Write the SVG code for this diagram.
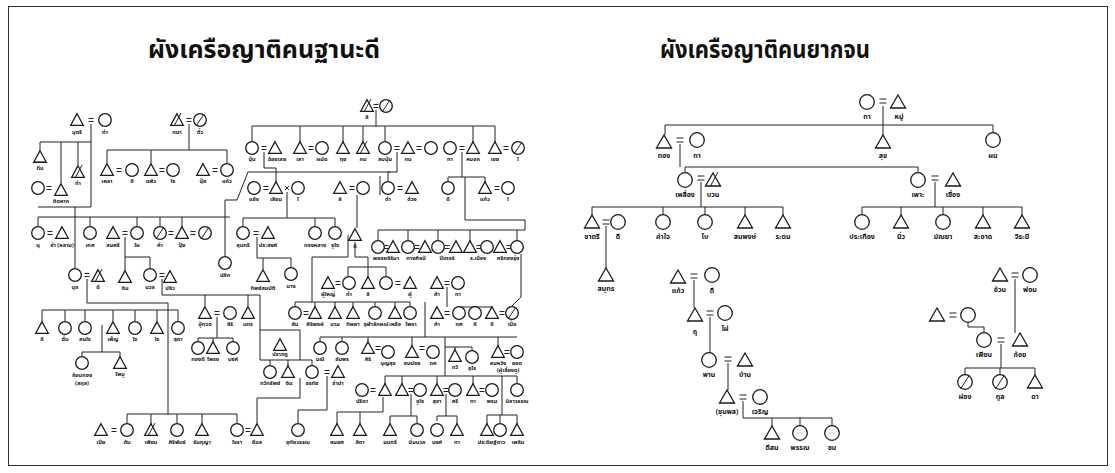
<svg xmlns="http://www.w3.org/2000/svg" xmlns:xlink="http://www.w3.org/1999/xlink" width="1115" height="473" viewBox="0 0 1115 473">
<style>
.s{fill:#fff;stroke:#1a1a1a;stroke-width:1.3}
.ln{stroke:#222;stroke-width:1;fill:none}
.eq line{stroke:#222;stroke-width:1}
.l{font-family:"Noto Sans Thai","Noto Sans","DejaVu Sans",sans-serif;font-size:5.5px;font-weight:bold;text-anchor:middle;fill:#111}
.L{font-family:"Noto Sans Thai","Noto Sans","DejaVu Sans",sans-serif;font-size:7px;font-weight:bold;text-anchor:middle;fill:#111}
.ttl{font-family:"Noto Sans Thai","Noto Sans","DejaVu Sans",sans-serif;font-size:25px;font-weight:bold;fill:#111}
</style>
<defs>
<circle id="c" r="6.3" class="s"/>
<path id="t" d="M0,-6.3 L6.3,5.3 L-6.3,5.3 Z" class="s"/>
<g id="cs"><circle r="6.3" class="s"/><line x1="-4" y1="6" x2="4" y2="-6" class="ln"/></g>
<g id="ts"><path d="M0,-6.3 L6.3,5.3 L-6.3,5.3 Z" class="s"/><line x1="-3" y1="6" x2="4" y2="-7" class="ln"/></g>
<g id="e" class="eq"><line x1="-2.5" y1="-1.5" x2="2.5" y2="-1.5"/><line x1="-2.5" y1="1.5" x2="2.5" y2="1.5"/></g>
<circle id="C" r="7.3" class="s"/>
<path id="T" d="M0,-7 L7.5,6 L-7.5,6 Z" class="s"/>
<g id="CS"><circle r="7.3" class="s"/><line x1="-4.5" y1="7" x2="4.5" y2="-7" class="ln"/></g>
<g id="TS"><path d="M0,-7 L7.5,6 L-7.5,6 Z" class="s"/><line x1="-3" y1="7" x2="5" y2="-8" class="ln"/></g>
<g id="E" class="eq"><line x1="-3.5" y1="-2" x2="3.5" y2="-2"/><line x1="-3.5" y1="2" x2="3.5" y2="2"/></g>
</defs>
<rect x="0" y="0" width="1115" height="473" fill="#fff"/>
<rect x="8.5" y="6.5" width="1099" height="459" fill="none" stroke="#333" stroke-width="1"/>
<text class="ttl" x="148" y="58" textLength="232" lengthAdjust="spacingAndGlyphs">ผังเครือญาติคนฐานะดี</text>
<text class="ttl" x="660" y="58" textLength="210" lengthAdjust="spacingAndGlyphs">ผังเครือญาติคนยากจน</text>

<g id="connectors">
<path class="ln" d="M91,124 V207 M38,207 H91 M75,207 V268 M91,142 H40 V150 M61,142 V183 M78,142 V165
M189,124 V150 M107,150 H227 M107,150 V163 M151,150 V163 M227,150 V163
M38,217 H230 M38,217 V226 M90,217 V226 M137,217 V226 M160,217 V226 M182,217 V227
M125,237 V270 M125,257 H150 V268
M87,279 V303 H168 M42,310 H178 M42,310 V321 M65,310 V321 M85,310 V321 M113,310 V321 M135,310 V321 M157,310 V321 M178,310 V321
M162,279 V295 H260 M205,295 V306 M248,295 V306 M260,295 V360
M102,325 V352 M82,352 H120 M82,352 V356 M120,352 V357
M168,303 V414 M127,414 H237 M127,414 V423 M151,414 V424 M177,414 V423 M202,414 V424 M237,414 V423
M376,110 V126 M252,126 H495 M252,126 V141 M300,126 V142 M343,126 V142 M363,126 V142 M385,126 V141 M473,126 V142 M495,126 V142
M264,152 V168 H276 V182 M285,186 L289,190 M289,186 L285,190
M287,192 V218 M243,218 H335 M243,218 V226 M315,218 V226 M335,218 V226
M248,172 H390 M248,172 L237,200 H225 V256
M357,195 V228 M380,176 V195
M397,152 V172 H388 V181
M462,152 V177 M448,177 H485 M448,177 V181 M485,177 V182
M465,177 V220 H525 V230 M378,230 H525 M378,230 V240 M408,230 V240 M438,230 V240 M470,230 V241 M517,230 V240
M348,235 V257 H312 V302 M295,302 H410 M295,302 V306 M315,302 V307 M335,302 V307 M353,302 V307 M375,302 V306 M395,302 V307 M410,302 V306
M355,242 V257 H368 V267 M348,267 H386 M348,267 V276 M368,267 V277 M386,267 V276
M447,287 V307 M459,307 H492 M459,307 V306 M475,307 V306 M492,307 V307
M521,254 V297 L512,306 M425,302 V337
M320,337 H517 M320,337 V341 M342,337 V341 M368,337 V342 M412,337 V346 M498,337 V346 M445,337 V376 M445,347 H472 M455,347 V350 M472,347 V351
M217,317 V338 M198,338 H233 M198,338 V343 M213,338 V342 M233,338 V341
M257,237 V258 H291 M263,258 V269 M291,258 V268
M260,330 H300 V360 M260,360 H312 M270,360 V365 M288,360 V366 M312,360 V365
M300,378 V398 H257 V423 M327,376 V410 H298 V423 M383,397 V412 H337 M337,412 V424 M360,412 V424
M385,376 H517 M385,376 V384 M402,376 V384 M437,376 V384 M473,376 V384 M517,376 V383
M502,376 V415 M487,415 H517 M487,415 V424 M500,415 V423 M517,415 V424
M411,394 V416 M390,416 H417 M390,416 V424 M417,416 V423 M446,394 V416 M437,416 H457 M437,416 V421 M457,416 V424
M883,106 V125 M665,125 H993 M665,125 V135 M883,125 V135 M993,125 V133
M680,144 V167 M685,167 H918 M685,167 V173 M918,167 V173
M701,182 V207 M592,207 H783 M592,207 V215 M663,207 V215 M705,207 V215 M745,207 V215 M783,207 V215
M935,182 V207 M862,207 H1022 M862,207 V215 M901,207 V215 M943,207 V215 M983,207 V215 M1022,207 V215
M606,226 V268 M694,280 V308 M710,317 V353 M728,363 V390
M743,401 V418 H832 M772,418 V426 M800,418 V426 M832,418 V426
M968,322 V327 H984 V333 M1015,279 V333 M1001,344 V368 M965,368 H1035 M965,368 V375 M1000,368 V375 M1035,368 V375"/>
<use href="#e" x="91" y="120"/><use href="#e" x="49" y="188"/><use href="#e" x="189" y="120"/>
<use href="#e" x="119" y="170"/><use href="#e" x="162" y="170"/><use href="#e" x="215" y="170"/>
<use href="#e" x="376" y="106"/><use href="#e" x="264" y="148"/><use href="#e" x="311" y="148"/><use href="#e" x="397" y="148"/><use href="#e" x="419" y="148"/><use href="#e" x="462" y="148"/><use href="#e" x="506" y="148"/>
<use href="#e" x="266" y="188"/><use href="#e" x="352" y="188"/><use href="#e" x="400" y="188"/><use href="#e" x="497" y="188"/>
<use href="#e" x="50" y="233"/><use href="#e" x="125" y="233"/><use href="#e" x="171" y="233"/><use href="#e" x="193" y="233"/><use href="#e" x="256" y="233"/>
<use href="#e" x="386" y="247"/><use href="#e" x="417" y="247"/><use href="#e" x="447" y="247"/><use href="#e" x="479" y="247"/><use href="#e" x="509" y="247"/>
<use href="#e" x="87" y="275"/><use href="#e" x="162" y="275"/><use href="#e" x="338" y="283"/><use href="#e" x="398" y="283"/><use href="#e" x="447" y="283"/>
<use href="#e" x="217" y="313"/><use href="#e" x="306" y="313"/><use href="#e" x="447" y="313"/><use href="#e" x="502" y="313"/>
<use href="#e" x="378" y="348"/><use href="#e" x="422" y="348"/><use href="#e" x="507" y="352"/><use href="#e" x="327" y="372"/>
<use href="#e" x="373" y="390"/><use href="#e" x="411" y="390"/><use href="#e" x="446" y="390"/><use href="#e" x="482" y="390"/>
<use href="#e" x="114" y="430"/><use href="#e" x="248" y="430"/>
<use href="#E" x="883" y="101"/><use href="#E" x="680" y="140"/><use href="#E" x="701" y="178"/><use href="#E" x="935" y="178"/><use href="#E" x="606" y="222"/>
<use href="#E" x="694" y="276"/><use href="#E" x="710" y="313"/><use href="#E" x="728" y="359"/><use href="#E" x="743" y="397"/>
<use href="#E" x="1015" y="275"/><use href="#E" x="953" y="315"/><use href="#E" x="1001" y="340"/>
</g>

<g id="left-tree">
<g id="a1"><use href="#t" x="77" y="120"/><text class="l" x="77" y="134">บุตรี</text></g>
<g id="a2"><use href="#c" x="105" y="120"/><text class="l" x="105" y="134">ทำ</text></g>
<g id="a3"><use href="#t" x="40" y="157"/><path d="M34,162 H46" class="ln" stroke-width="2"/><text class="l" x="40" y="170">ทีน</text></g>
<g id="a4"><use href="#c" x="38" y="188"/></g>
<g id="a5"><use href="#t" x="61" y="190"/><text class="l" x="61" y="203">ติดหาก</text></g>
<g id="a6"><use href="#ts" x="78" y="172"/><text class="l" x="78" y="185">ทำ</text></g>
<g id="b1"><use href="#ts" x="177" y="120"/><text class="l" x="177" y="134">ทนา</text></g>
<g id="b2"><use href="#cs" x="200" y="120"/><text class="l" x="200" y="134">ตั๋ว</text></g>
<g id="b3"><use href="#t" x="107" y="170"/><text class="l" x="107" y="183">เหลา</text></g>
<g id="b4"><use href="#c" x="132" y="170"/><text class="l" x="132" y="183">ดี</text></g>
<g id="b5"><use href="#t" x="151" y="170"/><text class="l" x="151" y="183">แพ้ว</text></g>
<g id="b6"><use href="#c" x="173" y="170"/><text class="l" x="173" y="183">ใจ</text></g>
<g id="b7"><use href="#t" x="203" y="170"/><text class="l" x="203" y="183">ปุ๋ย</text></g>
<g id="b8"><use href="#c" x="227" y="170"/><text class="l" x="227" y="183">แก้ว</text></g>
<g id="c1"><use href="#ts" x="367" y="106"/><text class="l" x="367" y="119">ลี</text></g>
<g id="c2"><use href="#cs" x="386" y="106"/></g>
<g id="d1"><use href="#c" x="252" y="148"/><text class="l" x="252" y="161">ปุ่น</text></g>
<g id="d2"><use href="#t" x="275" y="148"/><text class="l" x="277" y="161">ฉ้อยเลย</text></g>
<g id="d3"><use href="#t" x="300" y="148"/><text class="l" x="300" y="161">เสา</text></g>
<g id="d4"><use href="#c" x="322" y="148"/><text class="l" x="322" y="161">ผมัด</text></g>
<g id="d5"><use href="#t" x="343" y="148"/><text class="l" x="343" y="161">ทุย</text></g>
<g id="d6"><use href="#ts" x="363" y="148"/><text class="l" x="363" y="161">ทน</text></g>
<g id="d7"><use href="#c" x="385" y="148"/><text class="l" x="385" y="161">สมปุ่ม</text></g>
<g id="d8"><use href="#t" x="408" y="148"/><text class="l" x="408" y="161">ทน</text></g>
<g id="d9"><use href="#c" x="431" y="148"/></g>
<g id="d10"><use href="#c" x="450" y="148"/><text class="l" x="450" y="161">ทา</text></g>
<g id="d11"><use href="#t" x="473" y="148"/><text class="l" x="473" y="161">หมอก</text></g>
<g id="d12"><use href="#t" x="495" y="148"/><text class="l" x="495" y="161">เชย</text></g>
<g id="d13"><use href="#cs" x="518" y="148"/><text class="l" x="518" y="161">ใ</text></g>
<g id="e1"><use href="#c" x="254" y="188"/><text class="l" x="254" y="201">แข้ง</text></g>
<g id="e2"><use href="#t" x="276" y="188"/><text class="l" x="276" y="201">เสียน</text></g>
<g id="e3"><use href="#c" x="298" y="188"/><text class="l" x="298" y="201">ใ</text></g>
<g id="e4"><use href="#t" x="340" y="188"/><text class="l" x="340" y="201">ลิ</text></g>
<g id="e5"><use href="#c" x="363" y="188"/></g>
<g id="e6"><use href="#c" x="388" y="188"/><text class="l" x="388" y="201">ตำ</text></g>
<g id="e7"><use href="#t" x="412" y="188"/><text class="l" x="412" y="201">ด้วง</text></g>
<g id="e8"><use href="#c" x="448" y="188"/><text class="l" x="448" y="201">ดี</text></g>
<g id="e9"><use href="#t" x="485" y="188"/><text class="l" x="485" y="201">แก้ว</text></g>
<g id="e10"><use href="#c" x="508" y="188"/><text class="l" x="508" y="201">ใ</text></g>
<g id="f1"><use href="#c" x="38" y="233"/><text class="l" x="38" y="247">นุ</text></g>
<g id="f2"><use href="#t" x="62" y="233"/><text class="l" x="62" y="247">ชำ (หลาน)</text></g>
<g id="f3"><use href="#c" x="90" y="233"/><text class="l" x="90" y="247">เทศ</text></g>
<g id="f4"><use href="#t" x="113" y="233"/><text class="l" x="113" y="247">สมศรี</text></g>
<g id="f5"><use href="#c" x="137" y="233"/><text class="l" x="137" y="247">ไผ</text></g>
<g id="f6"><use href="#cs" x="160" y="233"/><text class="l" x="160" y="247">คำ</text></g>
<g id="f7"><use href="#t" x="182" y="233"/><text class="l" x="182" y="247">ปุ๋ย</text></g>
<g id="f8"><use href="#cs" x="205" y="233"/></g>
<g id="f9"><use href="#c" x="243" y="233"/><text class="l" x="243" y="247">สุนทรี</text></g>
<g id="f10"><use href="#t" x="268" y="233"/><text class="l" x="268" y="247">ประสงค์</text></g>
<g id="f11"><use href="#c" x="315" y="233"/><text class="l" x="315" y="247">ทองหลาง</text></g>
<g id="f12"><use href="#c" x="335" y="233"/><text class="l" x="335" y="247">ชูใจ</text></g>
<g id="f13"><use href="#t" x="355" y="235"/><text class="l" x="355" y="248">ดิ</text></g>
<g id="g1"><use href="#c" x="378" y="247"/></g>
<g id="g2"><use href="#t" x="393" y="247"/><text class="l" x="386" y="260">พลอยสิริมา</text></g>
<g id="g3"><use href="#c" x="408" y="247"/></g>
<g id="g4"><use href="#t" x="425" y="247"/><text class="l" x="416" y="260">ทางศิลป์</text></g>
<g id="g5"><use href="#c" x="438" y="247"/></g>
<g id="g6"><use href="#t" x="456" y="247"/><text class="l" x="447" y="260">ปีเตอร์</text></g>
<g id="g7"><use href="#t" x="470" y="247"/></g>
<g id="g8"><use href="#c" x="487" y="247"/><text class="l" x="478" y="260">ร.เมือง</text></g>
<g id="g9"><use href="#t" x="500" y="247"/></g>
<g id="g10"><use href="#c" x="517" y="247"/><text class="l" x="508" y="260">ศรีทองรุ่ง</text></g>
<g id="h1"><circle cx="225" cy="263" r="6.3" class="s" stroke-width="2"/><text class="l" x="225" y="277">ปลิก</text></g>
<g id="h2"><use href="#c" x="75" y="275"/><text class="l" x="75" y="289">บุล</text></g>
<g id="h3"><use href="#ts" x="98" y="276"/><text class="l" x="98" y="289">ดี</text></g>
<g id="h4"><use href="#t" x="125" y="277"/><text class="l" x="125" y="290">ดิน</text></g>
<g id="h5"><use href="#c" x="150" y="275"/><text class="l" x="150" y="289">นวล</text></g>
<g id="h6"><use href="#t" x="170" y="277"/><text class="l" x="170" y="290">ปลิว</text></g>
<g id="h7"><use href="#t" x="263" y="276"/><text class="l" x="263" y="290">ทิพย์สมบัติ</text></g>
<g id="h8"><use href="#c" x="291" y="274"/><text class="l" x="291" y="288">นาง</text></g>
<g id="i1"><use href="#t" x="328" y="283"/><text class="l" x="328" y="296">ผู้ใหญ่</text></g>
<g id="i2"><use href="#c" x="349" y="283"/><text class="l" x="349" y="296">ทำ</text></g>
<g id="i3"><use href="#t" x="368" y="283"/><text class="l" x="368" y="296">ลิ</text></g>
<g id="i4"><use href="#c" x="386" y="283"/></g>
<g id="i5"><use href="#t" x="410" y="283"/><text class="l" x="410" y="296">ผู้</text></g>
<g id="i6"><use href="#t" x="437" y="283"/><text class="l" x="437" y="296">ค้า</text></g>
<g id="i7"><use href="#c" x="458" y="283"/><text class="l" x="458" y="296">ทา</text></g>
<g id="j1"><use href="#t" x="205" y="313"/><text class="l" x="205" y="326">ปู่ทวด</text></g>
<g id="j2"><use href="#c" x="230" y="313"/><text class="l" x="230" y="326">สิริ</text></g>
<g id="j3"><use href="#t" x="248" y="313"/><text class="l" x="248" y="326">นทร</text></g>
<g id="j4"><use href="#c" x="295" y="313"/><text class="l" x="295" y="326">สิน</text></g>
<g id="j5"><use href="#t" x="315" y="313"/><text class="l" x="315" y="326">ศิริพงษ์</text></g>
<g id="j6"><use href="#t" x="335" y="313"/><text class="l" x="335" y="326">นาม</text></g>
<g id="j7"><use href="#t" x="353" y="313"/><text class="l" x="353" y="326">ทิพยา</text></g>
<g id="j8"><use href="#c" x="375" y="313"/><text class="l" x="376" y="326">จุฬาลักษณ์</text></g>
<g id="j9"><use href="#t" x="395" y="313"/><text class="l" x="395" y="326">เหลือ</text></g>
<g id="j10"><use href="#c" x="410" y="313"/><text class="l" x="411" y="326">ไพธา</text></g>
<g id="j11"><use href="#t" x="437" y="313"/><text class="l" x="437" y="326">ค้า</text></g>
<g id="j12"><use href="#c" x="459" y="313"/><text class="l" x="459" y="326">ทศ</text></g>
<g id="j13"><use href="#c" x="475" y="313"/><text class="l" x="475" y="326">ดี</text></g>
<g id="j14"><use href="#t" x="492" y="313"/><text class="l" x="492" y="326">ดี</text></g>
<g id="j15"><use href="#cs" x="512" y="313"/><text class="l" x="512" y="326">เปิ้ล</text></g>
<g id="k1"><use href="#t" x="42" y="328"/><text class="l" x="42" y="341">ดี</text></g>
<g id="k2"><use href="#c" x="65" y="328"/><text class="l" x="65" y="341">ดั้น</text></g>
<g id="k3"><use href="#c" x="85" y="328"/><text class="l" x="85" y="341">สมใจ</text></g>
<g id="k4"><use href="#t" x="113" y="328"/><text class="l" x="113" y="341">เพ็ญ</text></g>
<g id="k5"><use href="#c" x="135" y="328"/><text class="l" x="135" y="341">ใจ</text></g>
<g id="k6"><use href="#t" x="157" y="328"/><text class="l" x="157" y="341">ใจ</text></g>
<g id="k7"><use href="#c" x="178" y="328"/><text class="l" x="178" y="341">สุดา</text></g>
<g id="k8"><use href="#c" x="198" y="348"/><text class="l" x="198" y="361">ทองดี</text></g>
<g id="k9"><use href="#t" x="213" y="348"/><text class="l" x="213" y="361">ไพรง</text></g>
<g id="k10"><use href="#c" x="233" y="348"/><text class="l" x="233" y="361">นงค์</text></g>
<g id="l1"><use href="#c" x="82" y="363"/><text class="l" x="82" y="377">ก้อนทอง</text><text class="l" x="82" y="385">(สกุล)</text></g>
<g id="l2"><use href="#t" x="120" y="363"/><text class="l" x="120" y="376">ไพบู</text></g>
<g id="m1"><use href="#t" x="280" y="345"/><text class="l" x="280" y="356">ปรากฏ</text></g>
<g id="m2"><use href="#c" x="320" y="348"/><text class="l" x="320" y="361">มณี</text></g>
<g id="m3"><use href="#c" x="342" y="348"/><text class="l" x="342" y="361">อัมพร</text></g>
<g id="m4"><use href="#t" x="368" y="348"/><text class="l" x="368" y="361">ศิริ</text></g>
<g id="m5"><use href="#c" x="388" y="352"/><text class="l" x="388" y="365">บุญสุข</text></g>
<g id="m6"><use href="#t" x="412" y="352"/><text class="l" x="412" y="365">สมปอง</text></g>
<g id="m7"><use href="#c" x="433" y="352"/><text class="l" x="433" y="365">ทศ</text></g>
<g id="m8"><use href="#t" x="455" y="356"/><text class="l" x="455" y="369">ทวี</text></g>
<g id="m9"><use href="#c" x="472" y="357"/><text class="l" x="472" y="370">อุไร</text></g>
<g id="m10"><use href="#t" x="498" y="352"/><text class="l" x="498" y="365">สมหวัง</text></g>
<g id="m11"><use href="#c" x="517" y="352"/><text class="l" x="517" y="365">ยอด</text><text class="l" x="508" y="372">(ผู้เลี้ยงดู)</text></g>
<g id="n1"><use href="#c" x="270" y="372"/><text class="l" x="270" y="385">ทวีทรัพย์</text></g>
<g id="n2"><use href="#t" x="288" y="372"/><text class="l" x="289" y="385">ดิน</text></g>
<g id="n3"><use href="#c" x="312" y="372"/><text class="l" x="312" y="385">อรทัย</text></g>
<g id="n4"><use href="#t" x="338" y="372"/><text class="l" x="338" y="385">จำปา</text></g>
<g id="o1"><use href="#c" x="362" y="390"/><text class="l" x="362" y="403">ปรีดา</text></g>
<g id="o2"><use href="#t" x="385" y="390"/></g>
<g id="o3"><use href="#t" x="402" y="390"/></g>
<g id="o4"><use href="#c" x="420" y="390"/><text class="l" x="420" y="403">ชูใจ</text></g>
<g id="o5"><use href="#t" x="437" y="390"/><text class="l" x="437" y="403">สุชา</text></g>
<g id="o6"><use href="#c" x="455" y="390"/><text class="l" x="455" y="403">ศรี</text></g>
<g id="o7"><use href="#t" x="473" y="390"/><text class="l" x="473" y="403">ทา</text></g>
<g id="o8"><use href="#c" x="492" y="390"/><text class="l" x="492" y="403">พรม</text></g>
<g id="o9"><use href="#c" x="517" y="390"/><text class="l" x="517" y="403">นิลาวรรณ</text></g>
<g id="p1"><use href="#t" x="101" y="430"/><text class="l" x="101" y="444">เปีย</text></g>
<g id="p2"><use href="#c" x="127" y="430"/><text class="l" x="127" y="444">ตัน</text></g>
<g id="p3"><use href="#ts" x="151" y="430"/><text class="l" x="151" y="444">เพียน</text></g>
<g id="p4"><use href="#c" x="177" y="430"/><text class="l" x="177" y="444">ศิริพันธ์</text></g>
<g id="p5"><use href="#t" x="202" y="430"/><text class="l" x="202" y="444">จันทุญา</text></g>
<g id="p6"><use href="#c" x="237" y="430"/><text class="l" x="237" y="444">ใจรา</text></g>
<g id="p7"><use href="#t" x="257" y="430"/><text class="l" x="257" y="444">ดีแล</text></g>
<g id="p8"><use href="#c" x="298" y="430"/><text class="l" x="298" y="444">อุทัยวรรณ</text></g>
<g id="p9"><use href="#t" x="337" y="430"/><text class="l" x="337" y="444">สมยศ</text></g>
<g id="p10"><use href="#t" x="360" y="430"/><text class="l" x="360" y="444">สีดา</text></g>
<g id="p11"><use href="#t" x="390" y="430"/><text class="l" x="390" y="444">มนตรี</text></g>
<g id="p12"><use href="#c" x="417" y="430"/><text class="l" x="417" y="444">นิ่มนวล</text></g>
<g id="p13"><use href="#c" x="437" y="430"/><text class="l" x="437" y="444">นงค์</text></g>
<g id="p14"><use href="#t" x="457" y="430"/><text class="l" x="457" y="444">ทา</text></g>
<g id="p15"><use href="#t" x="487" y="430"/><text class="l" x="487" y="444">ประดิษฐ์</text></g>
<g id="p16"><use href="#c" x="500" y="430"/><text class="l" x="501" y="444">ดาว</text></g>
<g id="p17"><use href="#t" x="517" y="430"/><text class="l" x="518" y="444">เพลิน</text></g>
</g>

<g id="right-tree">
<g id="r1"><use href="#C" x="867" y="102"/><text class="L" x="867" y="119">ทา</text></g>
<g id="r2"><use href="#T" x="898" y="102"/><text class="L" x="899" y="119">หมู่</text></g>
<g id="r3"><use href="#T" x="664" y="142"/><text class="L" x="664" y="158">ทอง</text></g>
<g id="r4"><use href="#C" x="697" y="140"/><text class="L" x="697" y="158">ทา</text></g>
<g id="r5"><use href="#T" x="883" y="142"/><text class="L" x="883" y="158">สุข</text></g>
<g id="r6"><use href="#C" x="993" y="140"/><text class="L" x="993" y="158">ผม</text></g>
<g id="r7"><use href="#C" x="685" y="180"/><text class="L" x="685" y="197">เพลื่อง</text></g>
<g id="r8"><use href="#TS" x="713" y="180"/><text class="L" x="713" y="197">บวน</text></g>
<g id="r9"><use href="#C" x="918" y="180"/><text class="L" x="918" y="197">เพาะ</text></g>
<g id="r10"><use href="#T" x="953" y="180"/><text class="L" x="953" y="197">เชื่อง</text></g>
<g id="r11"><use href="#T" x="592" y="222"/><text class="L" x="592" y="239">ชาตรี</text></g>
<g id="r12"><use href="#C" x="618" y="222"/><text class="L" x="618" y="239">ดี</text></g>
<g id="r13"><use href="#C" x="663" y="222"/><text class="L" x="663" y="239">คำใจ</text></g>
<g id="r14"><use href="#C" x="705" y="222"/><text class="L" x="705" y="239">โบ</text></g>
<g id="r15"><use href="#T" x="745" y="222"/><text class="L" x="745" y="239">สมพงษ์</text></g>
<g id="r16"><use href="#T" x="783" y="222"/><text class="L" x="783" y="239">ระดม</text></g>
<g id="r17"><use href="#C" x="862" y="222"/><text class="L" x="862" y="239">ประเทือง</text></g>
<g id="r18"><use href="#T" x="901" y="222"/><text class="L" x="901" y="239">นิ่ว</text></g>
<g id="r19"><use href="#C" x="943" y="222"/><text class="L" x="943" y="239">มัณยา</text></g>
<g id="r20"><use href="#T" x="983" y="222"/><text class="L" x="983" y="239">สะอาด</text></g>
<g id="r21"><use href="#T" x="1022" y="222"/><text class="L" x="1022" y="239">จิระมี</text></g>
<g id="r22"><use href="#T" x="606" y="275"/><text class="L" x="606" y="291">สมุทร</text></g>
<g id="r23"><use href="#T" x="678" y="277"/><text class="L" x="678" y="293">แก้ว</text></g>
<g id="r24"><use href="#C" x="712" y="275"/><text class="L" x="712" y="293">ดี</text></g>
<g id="r25"><use href="#T" x="695" y="315"/><text class="L" x="695" y="334">ฤ</text></g>
<g id="r26"><use href="#C" x="725" y="313"/><text class="L" x="725" y="331">ไผ่</text></g>
<g id="r27"><use href="#C" x="709" y="360"/><text class="L" x="709" y="377">พาน</text></g>
<g id="r28"><use href="#T" x="745" y="360"/><text class="L" x="745" y="377">บ้าน</text></g>
<g id="r29"><use href="#T" x="727" y="397"/><text class="L" x="727" y="414">(ชุมพล)</text></g>
<g id="r30"><use href="#C" x="760" y="397"/><text class="L" x="760" y="414">เจริญ</text></g>
<g id="r31"><use href="#T" x="772" y="433"/><text class="L" x="772" y="450">ดีสม</text></g>
<g id="r32"><use href="#C" x="800" y="433"/><text class="L" x="800" y="450">พรรณ</text></g>
<g id="r33"><use href="#C" x="832" y="433"/><text class="L" x="832" y="450">ชม</text></g>
<g id="r34"><use href="#T" x="1000" y="275"/><text class="L" x="1000" y="292">อ้วน</text></g>
<g id="r35"><use href="#C" x="1030" y="275"/><text class="L" x="1030" y="292">พ่อม</text></g>
<g id="r36"><use href="#T" x="937" y="315"/></g>
<g id="r37"><use href="#C" x="968" y="315"/></g>
<g id="r38"><use href="#C" x="984" y="340"/><text class="L" x="984" y="357">เพียน</text></g>
<g id="r39"><use href="#T" x="1020" y="340"/><text class="L" x="1020" y="357">ก้อย</text></g>
<g id="r40"><use href="#CS" x="965" y="382"/><text class="L" x="965" y="399">ผ่อง</text></g>
<g id="r41"><use href="#CS" x="1000" y="382"/><text class="L" x="1000" y="399">ทูล</text></g>
<g id="r42"><use href="#T" x="1035" y="382"/><text class="L" x="1035" y="399">ดา</text></g>
</g>
</svg>
